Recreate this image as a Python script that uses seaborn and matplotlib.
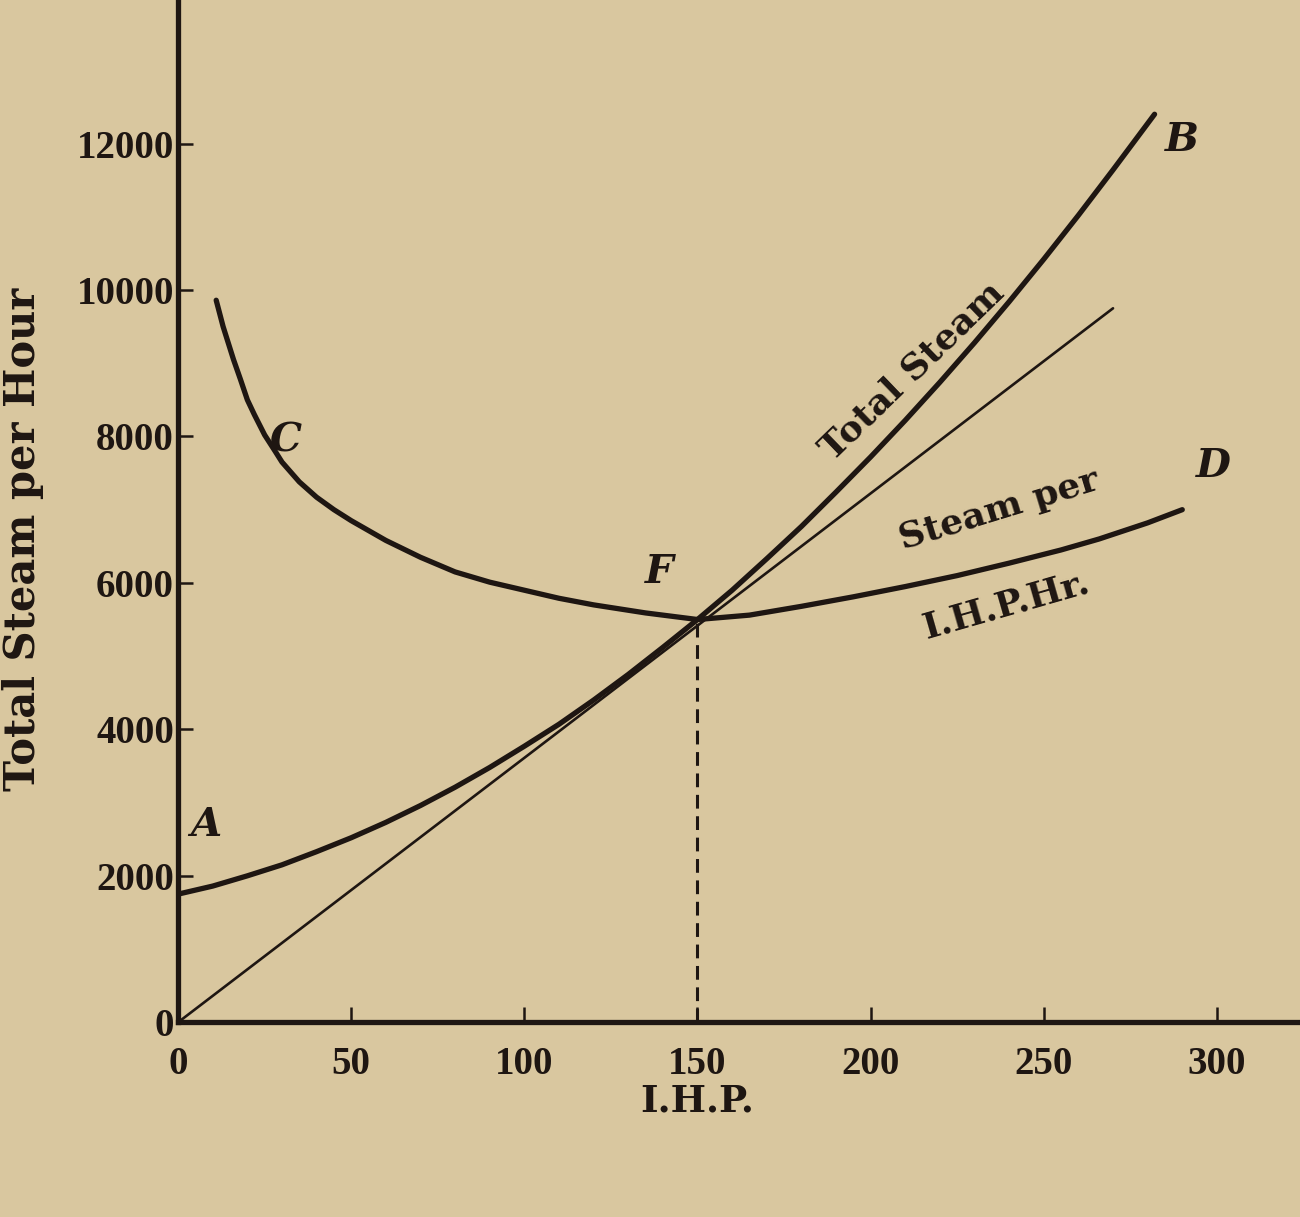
import pandas as pd
import seaborn as sns
import matplotlib.pyplot as plt

# values (I.H.P. vs steam)
ihp_total = [0, 10, 20, 30, 40, 50, 60, 70, 80, 90, 100, 110, 120, 130, 140, 150,
             160, 170, 180, 190, 200, 210, 220, 230, 240, 250, 260, 270, 282]
total_steam = [1750, 1860, 2000, 2150, 2330, 2520, 2730, 2960, 3210, 3480, 3770,
               4070, 4400, 4750, 5120, 5500, 5900, 6330, 6770, 7240, 7720, 8220,
               8740, 9280, 9840, 10420, 11020, 11640, 12400]

ihp_rate = [11, 13, 16, 18, 20, 22, 25, 28, 30, 35, 40, 45, 50, 60, 70, 80, 90,
            100, 110, 120, 135, 150, 165, 180, 195, 210, 225, 240, 255, 266, 280, 290]
steam_rate = [9860, 9500, 9050, 8780, 8500, 8300, 8020, 7800, 7650, 7380, 7170,
              7000, 6850, 6580, 6350, 6150, 6010, 5900, 5790, 5700, 5590, 5500,
              5560, 5680, 5810, 5950, 6100, 6270, 6450, 6600, 6820, 7000]

ihp_line = [0, 270]
steam_line = [0, 9750]

f_ihp = 150
f_steam = 5500

x_ticks = [0, 50, 100, 150, 200, 250, 300]
y_ticks = [0, 2000, 4000, 6000, 8000, 10000, 12000]

df_total = pd.DataFrame({'ihp': ihp_total, 'steam': total_steam})
df_rate = pd.DataFrame({'ihp': ihp_rate, 'steam': steam_rate})
df_line = pd.DataFrame({'ihp': ihp_line, 'steam': steam_line})
df_drop = pd.DataFrame({'ihp': [f_ihp, f_ihp], 'steam': [0, f_steam]})

paper = '#d9c79f'
ink = '#1e1612'

sns.set_theme(style='ticks')
plt.rcParams['font.family'] = ['DejaVu Serif']
plt.rcParams['axes.facecolor'] = paper
plt.rcParams['figure.facecolor'] = paper

fig = plt.figure(figsize=(13, 12.17), dpi=100)
ax = fig.add_axes([0.137, 0.160, 0.863, 0.840])

sns.lineplot(data=df_total, x='ihp', y='steam', color=ink, lw=3.8, ax=ax,
             estimator=None, sort=False)
sns.lineplot(data=df_rate, x='ihp', y='steam', color=ink, lw=3.8, ax=ax,
             estimator=None, sort=False)
sns.lineplot(data=df_line, x='ihp', y='steam', color=ink, lw=1.9, ax=ax,
             estimator=None, sort=False)
sns.lineplot(data=df_drop, x='ihp', y='steam', color=ink, lw=2.2, ax=ax,
             estimator=None, sort=False, linestyle=(0, (4.5, 2.5)))

ax.set_xlim(0, 324)
ax.set_ylim(0, 13960)
ax.set_xticks(x_ticks)
ax.set_yticks(y_ticks)
tick_font = dict(family='Liberation Serif', fontweight='bold', fontsize=28)
ax.set_xticklabels([str(t) for t in x_ticks], **tick_font)
ax.set_yticklabels([str(t) for t in y_ticks], **tick_font)
ax.tick_params(axis='both', direction='in', length=11, width=1.8, color=ink, labelcolor=ink)
ax.tick_params(axis='x', pad=17)
ax.tick_params(axis='y', pad=3)

for s in ['top', 'right']:
    ax.spines[s].set_visible(False)
for s in ['left', 'bottom']:
    ax.spines[s].set_linewidth(3.8)
    ax.spines[s].set_color(ink)

ax.set_xlabel('I.H.P.', fontweight='bold', fontsize=27, color=ink, va='center')
ax.xaxis.set_label_coords(0.4626, -0.077)
ax.set_ylabel('Total Steam per Hour', fontweight='bold', fontsize=30, color=ink, va='center')
ax.yaxis.set_label_coords(-0.138, 0.472)

letter = dict(fontweight='bold', style='italic', fontsize=29, color=ink,
              ha='center', va='center')
ax.text(8, 2700, 'A', **letter)
ax.text(31, 7950, 'C', **letter)
ax.text(139, 6150, 'F', **letter)
ax.text(290, 12050, 'B', **letter)
ax.text(299, 7600, 'D', **letter)

label = dict(fontweight='bold', fontsize=26, color=ink, ha='center', va='center',
             rotation_mode='anchor')
ax.text(212, 8900, 'Total Steam', rotation=44, **label)
ax.text(237, 7000, 'Steam per', rotation=17, **label)
ax.text(239, 5700, 'I.H.P.Hr.', rotation=16, **label)

plt.savefig('out.png', dpi=100, facecolor=paper)
